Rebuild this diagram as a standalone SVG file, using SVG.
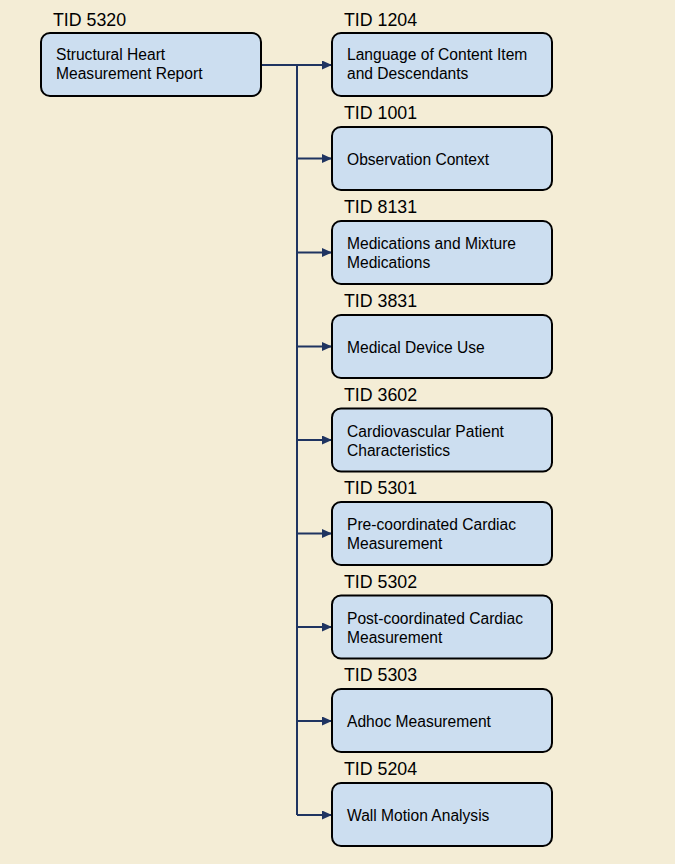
<svg xmlns="http://www.w3.org/2000/svg" width="675" height="864" viewBox="0 0 675 864">
<defs>
<style>
.box{fill:#ccdef0;stroke:#000;stroke-width:2}
.tid{font-family:"Liberation Sans",Arial,sans-serif;font-size:17.8px;fill:#000}
.t{font-family:"Liberation Sans",Arial,sans-serif;font-size:15.6px;fill:#000}
.c{fill:none;stroke:#1f3461;stroke-width:2}
</style>
<marker id="ah" markerWidth="10" markerHeight="9" refX="10" refY="4.5" orient="auto" markerUnits="userSpaceOnUse">
<path d="M0,0 L10,4.5 L0,9 Z" fill="#1f3461"/>
</marker>
</defs>
<rect width="675" height="864" fill="#f4edd6"/>
<g id="connectors">
<path class="c" d="M261,65 H297 V815"/>
<path class="c" marker-end="url(#ah)" d="M297,65 H332"/>
<path class="c" marker-end="url(#ah)" d="M297,158.5 H332"/>
<path class="c" marker-end="url(#ah)" d="M297,252.5 H332"/>
<path class="c" marker-end="url(#ah)" d="M297,346.5 H332"/>
<path class="c" marker-end="url(#ah)" d="M297,440 H332"/>
<path class="c" marker-end="url(#ah)" d="M297,533.5 H332"/>
<path class="c" marker-end="url(#ah)" d="M297,627 H332"/>
<path class="c" marker-end="url(#ah)" d="M297,721 H332"/>
<path class="c" marker-end="url(#ah)" d="M297,815 H332"/>
</g>
<g id="n5320">
<text class="tid" x="53" y="25.5">TID 5320</text>
<rect class="box" x="41" y="33" width="220" height="63" rx="9"/>
<text class="t" x="56" y="60">Structural Heart</text>
<text class="t" x="56" y="79">Measurement Report</text>
</g>
<g id="n1204">
<text class="tid" x="344" y="25.5">TID 1204</text>
<rect class="box" x="332" y="33" width="220" height="63" rx="9"/>
<text class="t" x="347" y="60">Language of Content Item</text>
<text class="t" x="347" y="79">and Descendants</text>
</g>
<g id="n1001">
<text class="tid" x="344" y="118.5">TID 1001</text>
<rect class="box" x="332" y="127" width="220" height="63" rx="9"/>
<text class="t" x="347" y="164.5">Observation Context</text>
</g>
<g id="n8131">
<text class="tid" x="344" y="213">TID 8131</text>
<rect class="box" x="332" y="221" width="220" height="63" rx="9"/>
<text class="t" x="347" y="249">Medications and Mixture</text>
<text class="t" x="347" y="268">Medications</text>
</g>
<g id="n3831">
<text class="tid" x="344" y="307">TID 3831</text>
<rect class="box" x="332" y="315" width="220" height="63" rx="9"/>
<text class="t" x="347" y="352.5">Medical Device Use</text>
</g>
<g id="n3602">
<text class="tid" x="344" y="400.5">TID 3602</text>
<rect class="box" x="332" y="408.5" width="220" height="63" rx="9"/>
<text class="t" x="347" y="436.5">Cardiovascular Patient</text>
<text class="t" x="347" y="455.5">Characteristics</text>
</g>
<g id="n5301">
<text class="tid" x="344" y="494">TID 5301</text>
<rect class="box" x="332" y="502" width="220" height="63" rx="9"/>
<text class="t" x="347" y="530">Pre-coordinated Cardiac</text>
<text class="t" x="347" y="549">Measurement</text>
</g>
<g id="n5302">
<text class="tid" x="344" y="587.5">TID 5302</text>
<rect class="box" x="332" y="595.5" width="220" height="63" rx="9"/>
<text class="t" x="347" y="623.5">Post-coordinated Cardiac</text>
<text class="t" x="347" y="642.5">Measurement</text>
</g>
<g id="n5303">
<text class="tid" x="344" y="681">TID 5303</text>
<rect class="box" x="332" y="689" width="220" height="63" rx="9"/>
<text class="t" x="347" y="727">Adhoc Measurement</text>
</g>
<g id="n5204">
<text class="tid" x="344" y="775">TID 5204</text>
<rect class="box" x="332" y="783" width="220" height="63" rx="9"/>
<text class="t" x="347" y="821">Wall Motion Analysis</text>
</g>
</svg>
